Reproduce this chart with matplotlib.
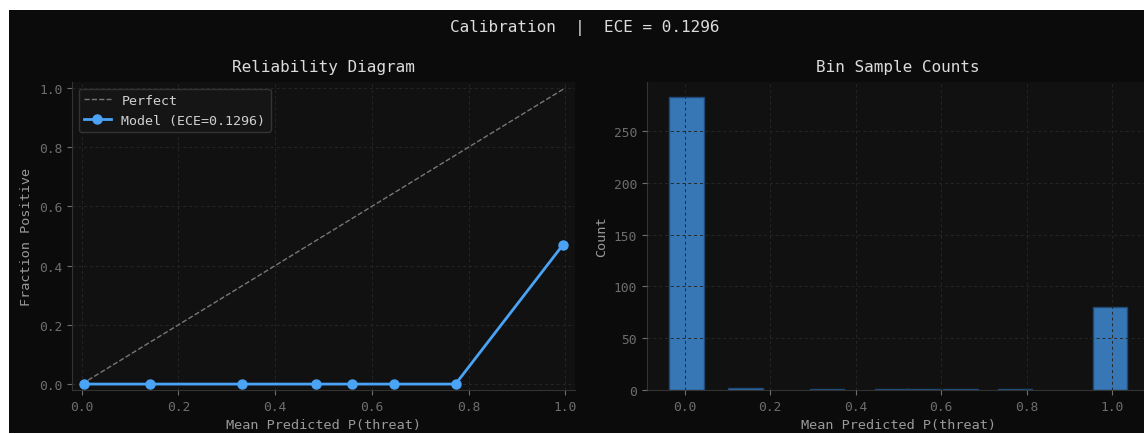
import matplotlib
matplotlib.use("Agg")
import matplotlib.pyplot as plt
from matplotlib.patches import Rectangle

# ---- data ----
mean_pred = [0.004, 0.142, 0.332, 0.485, 0.558, 0.645, 0.773, 0.995]
frac_pos = [0.0, 0.0, 0.0, 0.0, 0.0, 0.0, 0.0, 0.47]
bin_counts = [283, 2, 1, 1, 1, 1, 1, 80]
perfect_x = [0.0, 1.0]
perfect_y = [0.0, 1.0]
ece = 0.1296
xticks = [0.0, 0.2, 0.4, 0.6, 0.8, 1.0]

plt.rcParams['font.family'] = ['DejaVu Sans Mono']

W, H = 1144, 435
fig = plt.figure(figsize=(W / 100, H / 100), dpi=100, facecolor='white')
fig.patches.append(Rectangle((9 / W, 1 / H), 1 - 9 / W, (424 - 1) / H,
                             transform=fig.transFigure, facecolor='#0b0b0b',
                             edgecolor='none', zorder=-10))

AX_BG = '#111111'
TICK_C = '#6e6e6e'
LABEL_C = '#9a9a9a'
TITLE_C = '#dcdcdc'
SPINE_C = '#333333'
GRID_C = '#262626'
LINE_C = '#4aa3f5'

ax1 = fig.add_axes([72 / W, 44 / H, 503 / W, 308 / H])
ax2 = fig.add_axes([646.5 / W, 44 / H, 503.5 / W, 308 / H])

for ax in (ax1, ax2):
    ax.set_facecolor(AX_BG)
    for s in ('top', 'right'):
        ax.spines[s].set_visible(False)
    for s in ('left', 'bottom'):
        ax.spines[s].set_color(SPINE_C)
    ax.tick_params(colors=TICK_C, labelsize=9.3, length=3.5, width=0.8)
    ax.grid(True, color=GRID_C, linestyle=(0, (3, 3)), linewidth=0.7)

# Reliability diagram
ax1.plot(perfect_x, perfect_y, linestyle='--', color='#777777', linewidth=1.0,
         label='Perfect')
ax1.plot(mean_pred, frac_pos, marker='o', color=LINE_C, linewidth=2.0,
         markersize=6.5, label=f'Model (ECE={ece:.4f})')
ax1.set_xlim(-0.02, 1.02)
ax1.set_ylim(-0.02, 1.02)
ax1.set_xticks(xticks)
ax1.set_yticks([0.0, 0.2, 0.4, 0.6, 0.8, 1.0])
ax1.set_xlabel('Mean Predicted P(threat)', color=LABEL_C, fontsize=9.7, labelpad=4)
ax1.set_ylabel('Fraction Positive', color=LABEL_C, fontsize=9.7)
ax1.set_title('Reliability Diagram', color=TITLE_C, fontsize=11.5, pad=8)
leg = ax1.legend(loc='upper left', fontsize=9.6, facecolor='#151515',
                 edgecolor='#333333', labelcolor='#d0d0d0', framealpha=1.0)

# Bin counts
ax2.bar(mean_pred, bin_counts, width=0.08, color='#3777b6', edgecolor='#1f4a78',
        linewidth=1.0)
ax2.set_axisbelow(False)
ax2.set_xticks(xticks)
ax2.set_xlabel('Mean Predicted P(threat)', color=LABEL_C, fontsize=9.7, labelpad=4)
ax2.set_ylabel('Count', color=LABEL_C, fontsize=9.7)
ax2.set_title('Bin Sample Counts', color=TITLE_C, fontsize=11.5, pad=8)

fig.text(584.5 / W, (435 - 27.5) / H, f'Calibration  |  ECE = {ece:.4f}',
         ha='center', va='center', color=TITLE_C, fontsize=11.5)

fig.savefig('out.png', dpi=100, facecolor=fig.get_facecolor())
